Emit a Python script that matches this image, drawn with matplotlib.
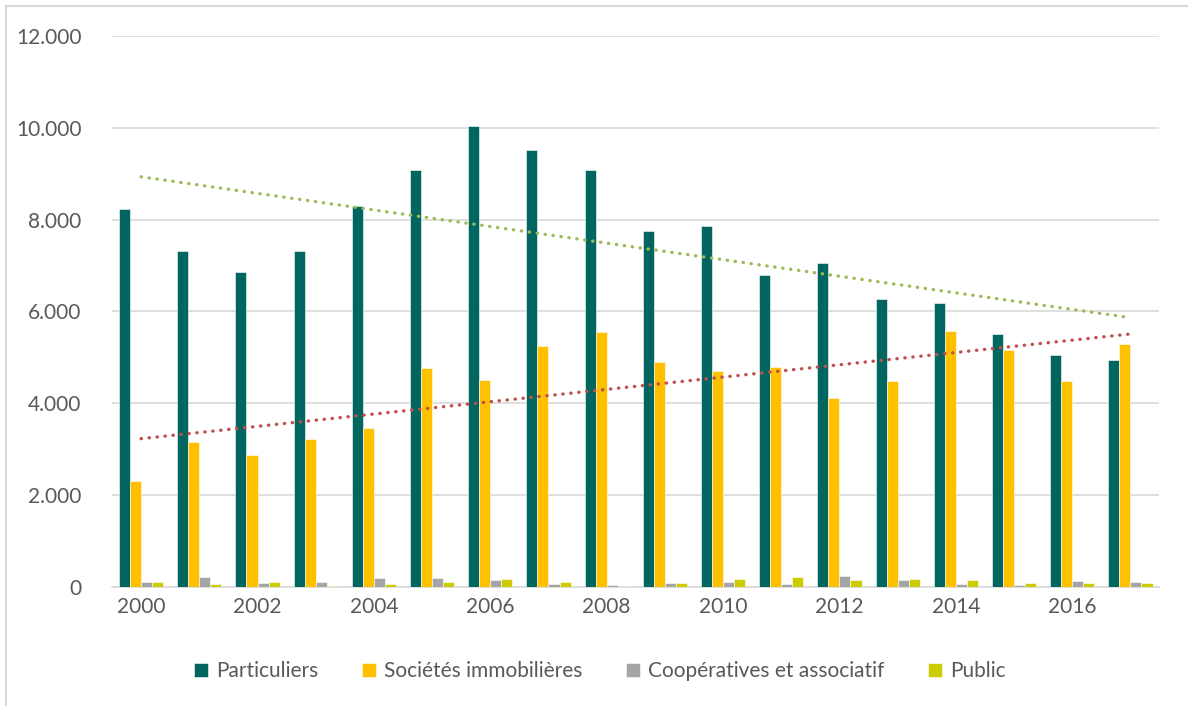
import matplotlib.pyplot as plt
import numpy as np
from matplotlib.lines import Line2D
from matplotlib.ticker import FuncFormatter

plt.rcParams['font.family'] = ['Lato', 'DejaVu Sans']

years = list(range(2000, 2018))
particuliers = [8230, 7320, 6860, 7320, 8300, 9080, 10040, 9520, 9080,
                7760, 7860, 6800, 7060, 6270, 6190, 5510, 5050, 4940]
societes = [2310, 3160, 2880, 3230, 3460, 4770, 4510, 5250, 5560,
            4900, 4710, 4790, 4120, 4490, 5580, 5160, 4490, 5290]
cooperatives = [99, 222, 84, 99, 199, 199, 153, 61, 53,
                80, 109, 62, 249, 156, 62, 47, 140, 109]
public = [99, 61, 107, 23, 61, 99, 176, 107, 23,
          80, 179, 218, 156, 171, 156, 93, 78, 78]

series = [
    ('Particuliers', particuliers, '#00665F'),
    ('Sociétés immobilières', societes, '#FFC000'),
    ('Coopératives et associatif', cooperatives, '#A5A5A5'),
    ('Public', public, '#CCCC00'),
]

fig = plt.figure(figsize=(11.88, 7.06), dpi=100)
ax = fig.add_axes([0.0943, 0.1686, 0.8817, 0.7804])

x = np.arange(len(years))
width = 0.19
for i, (name, vals, col) in enumerate(series):
    ax.bar(x + (i - 1.5) * width, vals, width, color=col, label=name,
           edgecolor='white', linewidth=0.4, zorder=3)

# linear trend lines for the two main series
for vals, col in [(particuliers, '#9BBB59'), (societes, '#C0504D')]:
    slope, icpt = np.polyfit(x, vals, 1)
    ax.plot(x, slope * x + icpt, color=col, lw=2.4,
            linestyle=(0, (0.1, 2.3)), dash_capstyle='round', zorder=4)

ax.set_xlim(-0.5, len(years) - 0.5)
ax.set_ylim(0, 12000)
ax.set_yticks(range(0, 12001, 2000))
ax.yaxis.set_major_formatter(FuncFormatter(lambda v, p: f'{int(v):,}'.replace(',', '.')))
ax.set_xticks(x[::2])
ax.set_xticklabels([str(y) for y in years[::2]])

ax.grid(axis='y', color='#D9D9D9', lw=1.2, zorder=0)
for s in ['top', 'right', 'left']:
    ax.spines[s].set_visible(False)
ax.spines['bottom'].set_color('#D9D9D9')
ax.spines['bottom'].set_linewidth(1.2)
ax.tick_params(axis='both', length=0, labelsize=15, labelcolor='#595959')
ax.tick_params(axis='y', pad=22)
ax.tick_params(axis='x', pad=7)

fig.legend(loc='center', bbox_to_anchor=(0.505, 0.049), ncol=4, frameon=False,
           fontsize=15, labelcolor='#595959', handlelength=0.65, handleheight=0.65,
           handletextpad=0.4, columnspacing=2.1)

# chart frame: only top and left edges show
fig.add_artist(Line2D([6 / 1188, 6 / 1188], [0, 1 - 6 / 706],
                      transform=fig.transFigure, color='#D9D9D9', lw=1.5))
fig.add_artist(Line2D([6 / 1188, 1], [1 - 6 / 706, 1 - 6 / 706],
                      transform=fig.transFigure, color='#D9D9D9', lw=1.5))

fig.savefig('out.png', dpi=100)
